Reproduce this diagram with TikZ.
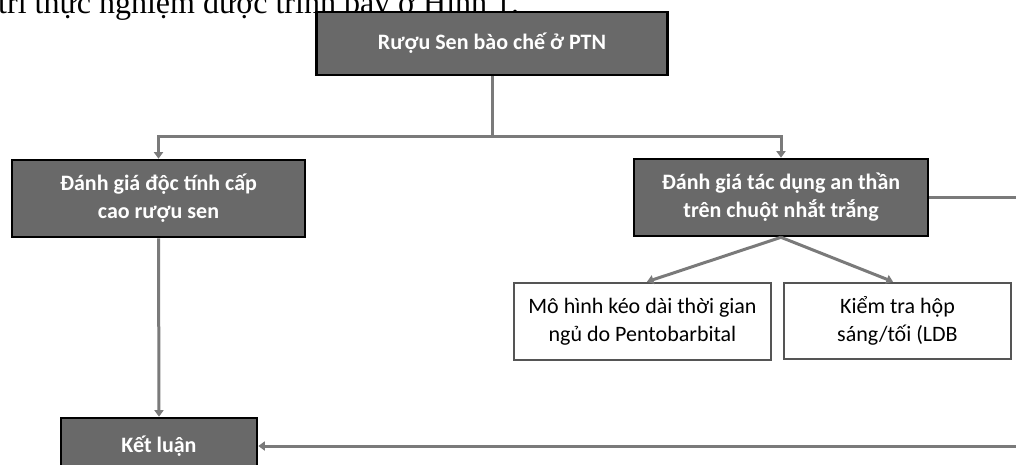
\documentclass[tikz,border=0pt]{standalone}
\usepackage{fontspec}
\setmainfont{Carlito}
\newfontfamily\serifbody{Liberation Serif}
\usetikzlibrary{arrows.meta}
\definecolor{boxfill}{RGB}{105,105,105}
\definecolor{conncol}{RGB}{122,122,122}
\definecolor{wbord}{RGB}{85,85,85}
\tikzset{
  darkbox/.style={draw=black, line width=2.6pt, fill=boxfill, text=white,
    font=\fontsize{22}{28}\selectfont\bfseries, align=center, inner sep=0pt},
  whitebox/.style={draw=wbord, line width=2.6pt, fill=white, text=black,
    font=\fontsize{22}{28}\selectfont, align=center, inner sep=0pt},
  conn/.style={draw=conncol, line width=3pt},
  arr/.style={conn, -{Triangle[width=9pt,length=6.5pt]}},
}
\begin{document}
\begin{tikzpicture}[x=1pt,y=-1pt]
\useasboundingbox (0,0) rectangle (1016,464);
\clip (0,0) rectangle (1016,464);
\node[anchor=base west, font=\serifbody\fontsize{32}{38}\selectfont, inner sep=0pt] (intro) at (-2,13) {trí thực nghiệm được trình bày ở Hình 1.};
\node[darkbox, minimum width=351pt, minimum height=63pt] (top) at (492,43.5) {Rượu Sen bào chế ở PTN};
\node[darkbox, minimum width=293pt, minimum height=77pt] (L) at (158.5,198.5) {Đánh giá độc tính cấp\\cao rượu sen};
\node[darkbox, minimum width=294pt, minimum height=77pt] (R) at (781,197.5) {Đánh giá tác dụng an thần\\trên chuột nhắt trắng};
\node[whitebox, minimum width=257pt, minimum height=77pt] (M) at (642.5,321.5) {Mô hình kéo dài thời gian\\ngủ do Pentobarbital};
\node[whitebox, minimum width=227pt, minimum height=76pt] (K) at (897.5,321) {Kiểm tra hộp\\sáng/tối (LDB};
\node[darkbox, minimum width=196pt, minimum height=56pt] (KL) at (159,446) {Kết luận};
\coordinate (j) at (492,136);
\coordinate (rt) at (1030,300);
\draw[conn] (top.south) -- (j);
\draw[arr] (j) -| (L.north);
\draw[arr] (j) -| (R.north);
\draw[arr] (L.south) -- (KL.north);
\draw[arr] (R.south) -- ([xshift=4.5pt]M.north);
\draw[arr] (R.south) -- ([xshift=-4.5pt]K.north);
\draw[arr] (R.east) -| (rt) |- (KL.east);
\end{tikzpicture}
\end{document}
